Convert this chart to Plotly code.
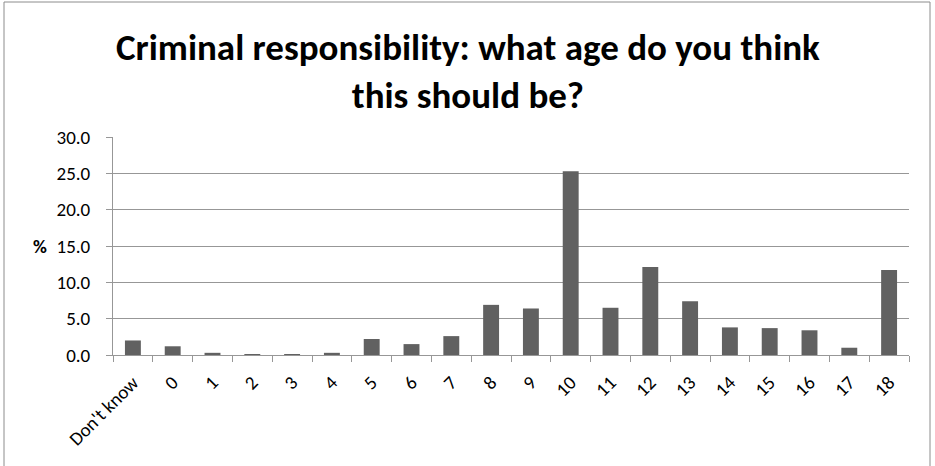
import plotly.graph_objects as go

categories = ["Don't know", "0", "1", "2", "3", "4", "5", "6", "7", "8", "9",
              "10", "11", "12", "13", "14", "15", "16", "17", "18"]
values = [2.0, 1.2, 0.3, 0.1, 0.1, 0.3, 2.2, 1.5, 2.6, 6.9, 6.4,
          25.3, 6.5, 12.1, 7.4, 3.8, 3.7, 3.4, 1.0, 11.7]
y_ticks = [0, 5, 10, 15, 20, 25, 30]
y_tick_labels = ["0.0", "5.0", "10.0", "15.0", "20.0", "25.0", "30.0"]

W, H = 935, 466
L, R, T, B = 113, 26, 137, 111
pw, ph = W - L - R, H - T - B

font_family = "Carlito, Calibri, 'Liberation Sans Narrow', 'Open Sans', sans-serif"
line_col = "#979797"

fig = go.Figure(go.Bar(x=categories, y=values, marker=dict(color="#616161", line=dict(width=0))))

fig.update_layout(
    width=W, height=H,
    margin=dict(l=L, r=R, t=T, b=B),
    paper_bgcolor="white", plot_bgcolor="white",
    bargap=0.6,
    showlegend=False,
    font=dict(family=font_family, size=19, color="black"),
    xaxis=dict(
        type="category", tickangle=-45, showline=True, linecolor=line_col, linewidth=1,
        ticks="outside", tickson="boundaries", ticklen=6, tickcolor=line_col,
        showgrid=False, tickfont=dict(size=19), ticklabelstandoff=8,
    ),
    yaxis=dict(
        range=[0, 30], tickvals=y_ticks, ticktext=y_tick_labels,
        showline=True, linecolor=line_col, linewidth=1,
        ticks="outside", ticklen=6, tickcolor=line_col,
        showgrid=True, gridcolor=line_col, gridwidth=1,
        zeroline=False, tickfont=dict(size=19), ticklabelstandoff=12,
    ),
    annotations=[
        dict(
            text="<b>%</b>", xref="paper", yref="y", x=(40 - L) / pw, y=15,
            showarrow=False, xanchor="center", yanchor="middle", font=dict(size=19),
        ),
        dict(
            text="<b>Criminal responsibility: what age do you think<br>this should be?</b>",
            xref="paper", yref="paper", x=(467.5 - L) / pw, y=(H - B - 71) / ph,
            showarrow=False, xanchor="center", yanchor="middle", align="center",
            font=dict(size=37, color="black"),
        ),
    ],
    shapes=[dict(
        type="rect", xref="paper", yref="paper",
        x0=(4 - L) / pw, x1=(930 - L) / pw,
        y0=(H - B - 470) / ph, y1=(H - B - 2) / ph,
        line=dict(color="#8c8c8c", width=1), fillcolor="rgba(0,0,0,0)", layer="below",
    )],
)

fig.write_html("out.html")
